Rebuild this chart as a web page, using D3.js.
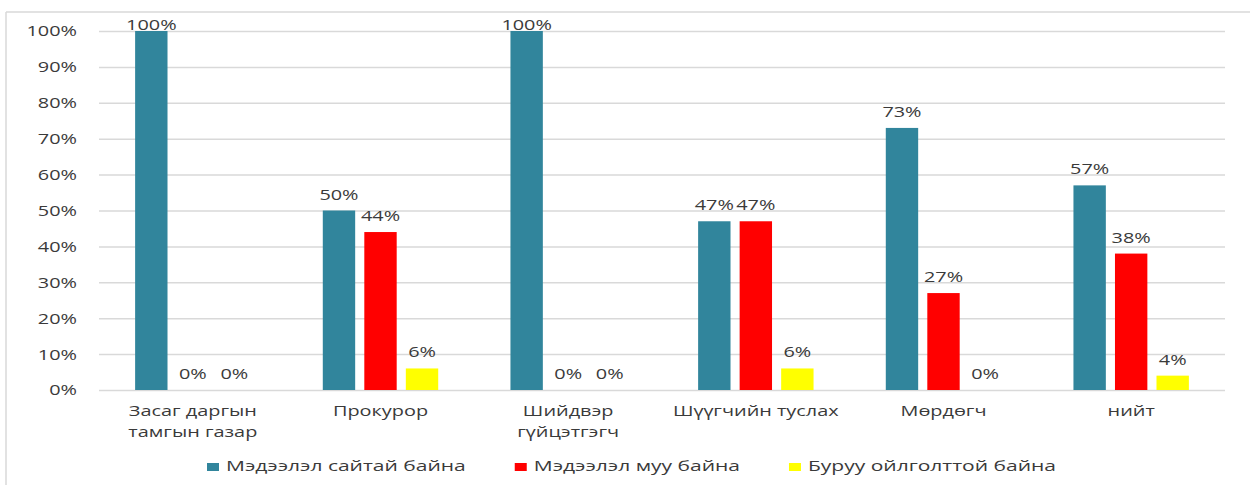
<!DOCTYPE html>
<html lang="mn">
<head>
<meta charset="UTF-8">
<title>Мэдээлэл</title>
<script src="https://d3js.org/d3.v7.min.js"></script>
<style>
    body { margin: 0; background: #fff; }
    text { font-family: "Open Sans", sans-serif; fill: #3a3a3a; }
    .grid line { stroke: #d9d9d9; stroke-width: 1.5px; }
</style>
</head>
<body>
<svg id="chart" width="1250" height="485"></svg>
<script>
// categories and series
const categories = ["Засаг даргын\nтамгын газар", "Прокурор", "Шийдвэр\nгүйцэтгэгч", "Шүүгчийн туслах", "Мөрдөгч", "нийт"];
const seriesNames = ["Мэдээлэл сайтай байна", "Мэдээлэл муу байна", "Буруу ойлголттой байна"];
const good = [100, 50, 100, 47, 73, 57];
const bad = [0, 44, 0, 47, 27, 38];
const wrong = [0, 6, 0, 6, 0, 4];
const colors = ["#31859c", "#ff0000", "#ffff00"];
const yTicks = [0, 10, 20, 30, 40, 50, 60, 70, 80, 90, 100];

const K = 1.42; // the source picture is stretched sideways

const svg = d3.select("#chart");

// chart frame
svg.append("line").attr("x1", 6).attr("x2", 1250).attr("y1", 12).attr("y2", 12)
    .attr("stroke", "#d9d9d9").attr("stroke-width", 1.5);
svg.append("line").attr("x1", 6).attr("x2", 6).attr("y1", 12).attr("y2", 485)
    .attr("stroke", "#d9d9d9").attr("stroke-width", 1.5);

const plotL = 99, plotR = 1225, plotT = 31, plotB = 390;

const y = d3.scaleLinear().domain([0, 100]).range([plotB, plotT]);
const x0 = d3.scaleBand().domain(d3.range(categories.length)).range([plotL, plotR]);
const x1 = d3.scaleBand().domain(d3.range(3)).range([0, x0.bandwidth()])
    .paddingInner(0.22).paddingOuter(0.87);

// y axis + gridlines
const yAxis = svg.append("g").attr("class", "grid")
    .attr("transform", `translate(${plotL},0)`)
    .call(d3.axisLeft(y).tickValues(yTicks).tickFormat(d => d + "%")
        .tickSizeInner(-(plotR - plotL)).tickSizeOuter(0));
yAxis.select(".domain").remove();
yAxis.selectAll("text")
    .attr("x", -22 / K).attr("dy", "0.35em")
    .attr("transform", `scale(${K},1)`)
    .style("font-size", "14px").style("fill", "#3a3a3a");

function label(g, x, yy, s, size, anchor) {
    return g.append("text")
        .attr("transform", `translate(${x},${yy}) scale(${K},1)`)
        .attr("text-anchor", anchor || "middle")
        .style("font-size", size + "px")
        .text(s);
}

// bars
const rows = categories.map((c, i) => [good[i], bad[i], wrong[i]]);
const groups = svg.append("g").selectAll("g").data(rows).join("g")
    .attr("transform", (d, i) => `translate(${x0(i)},0)`);

groups.selectAll("rect").data(d => d).join("rect")
    .attr("x", (d, j) => x1(j))
    .attr("y", d => y(d))
    .attr("width", x1.bandwidth())
    .attr("height", d => y(0) - y(d))
    .attr("fill", (d, j) => colors[j]);

// value labels (kept inside the frame at the top)
groups.each(function (d) {
    const g = d3.select(this);
    d.forEach((v, j) => {
        label(g, x1(j) + x1.bandwidth() / 2, Math.max(y(v) - 11, 30), v + "%", 14);
    });
});

// category labels
const xl = svg.append("g");
categories.forEach((c, i) => {
    c.split("\n").forEach((line, k) => {
        label(xl, x0(i) + x0.bandwidth() / 2, 416 + k * 21, line, 14);
    });
});

// legend, centered on the chart area
const leg = svg.append("g");
const sq = 12, gapTxt = 7, gapItem = 49;
const items = seriesNames.map((n, j) => {
    const t = label(leg, 0, 471, n, 14.8, "start");
    return { t, w: t.node().getComputedTextLength() * K, j };
});
const total = d3.sum(items, d => sq + gapTxt + d.w) + gapItem * (items.length - 1);
let cx = 631.5 - total / 2;
items.forEach(it => {
    leg.append("rect").attr("x", cx).attr("y", 463).attr("width", sq).attr("height", 8)
        .attr("fill", colors[it.j]);
    it.t.attr("transform", `translate(${cx + sq + gapTxt},471) scale(${K},1)`);
    cx += sq + gapTxt + it.w + gapItem;
});
</script>
</body>
</html>
